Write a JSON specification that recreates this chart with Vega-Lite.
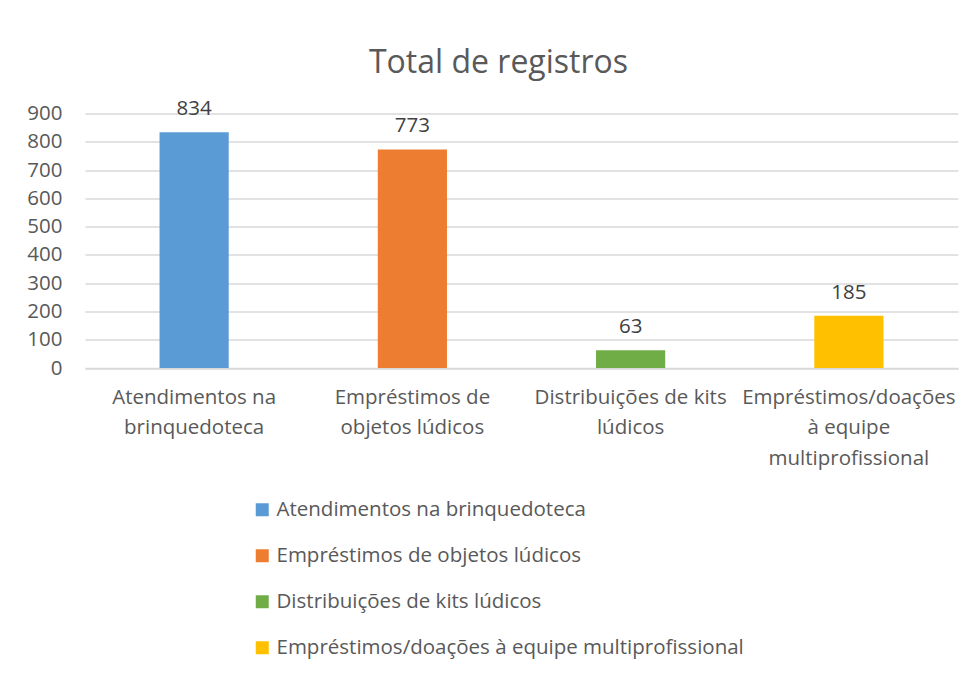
{
  "$schema": "https://vega.github.io/schema/vega-lite/v6.json",
  "autosize": "none",
  "width": 873,
  "height": 254.5,
  "padding": {"left": 85, "top": 113.5, "right": 17, "bottom": 305},
  "background": "white",
  "title": {
    "text": "Total de registros",
    "font": "Open Sans",
    "fontSize": 32,
    "fontWeight": "normal",
    "color": "#595959",
    "anchor": "middle",
    "dx": -23,
    "baseline": "alphabetic",
    "offset": -6
  },
  "data": {
    "values": [
      {"categoria": "Atendimentos na brinquedoteca", "total": 834},
      {"categoria": "Empréstimos de objetos lúdicos", "total": 773},
      {"categoria": "Distribuições de kits lúdicos", "total": 63},
      {"categoria": "Empréstimos/doações à equipe multiprofissional", "total": 185}
    ]
  },
  "encoding": {
    "x": {
      "field": "categoria",
      "type": "nominal",
      "sort": null,
      "scale": {"paddingInner": 0.683, "paddingOuter": 0.3415},
      "axis": {
        "title": null,
        "labelAngle": 0,
        "labelFont": "Open Sans",
        "labelFontSize": 20.5,
        "labelColor": "#595959",
        "labelLineHeight": 30.5,
        "labelPadding": 19,
        "labelLimit": 0,
        "ticks": false,
        "domainColor": "#D9D9D9",
        "domainWidth": 1.5,
        "labelExpr": "datum.value == 'Atendimentos na brinquedoteca' ? ['Atendimentos na', 'brinquedoteca'] : datum.value == 'Empréstimos de objetos lúdicos' ? ['Empréstimos de', 'objetos lúdicos'] : datum.value == 'Distribuições de kits lúdicos' ? ['Distribuições de kits', 'lúdicos'] : ['Empréstimos/doações', 'à equipe', 'multiprofissional']"
      }
    },
    "y": {
      "field": "total",
      "type": "quantitative",
      "scale": {"domain": [0, 900]},
      "axis": {
        "title": null,
        "values": [0, 100, 200, 300, 400, 500, 600, 700, 800, 900],
        "labelFont": "Open Sans",
        "labelFontSize": 20.5,
        "labelColor": "#595959",
        "labelPadding": 23,
        "ticks": false,
        "domain": false,
        "gridColor": "#D9D9D9",
        "gridWidth": 1.5
      }
    }
  },
  "layer": [
    {
      "mark": {"type": "bar"},
      "encoding": {
        "color": {
          "field": "categoria",
          "type": "nominal",
          "sort": null,
          "scale": {"range": ["#5B9BD5", "#ED7D31", "#70AD47", "#FFC000"]},
          "legend": {
            "title": null,
            "orient": "none",
            "legendX": 167,
            "legendY": 386,
            "direction": "vertical",
            "symbolType": "square",
            "symbolSize": 169,
            "symbolStrokeWidth": 0,
            "labelFont": "Open Sans",
            "labelFontSize": 20.5,
            "labelColor": "#595959",
            "labelLimit": 0,
            "labelOffset": 4,
            "rowPadding": 25
          }
        }
      }
    },
    {
      "mark": {"type": "text", "baseline": "alphabetic", "dy": -17, "font": "Open Sans", "fontSize": 20.5, "color": "#404040"},
      "encoding": {"text": {"field": "total", "type": "quantitative"}}
    }
  ],
  "config": {"view": {"stroke": null}}
}
